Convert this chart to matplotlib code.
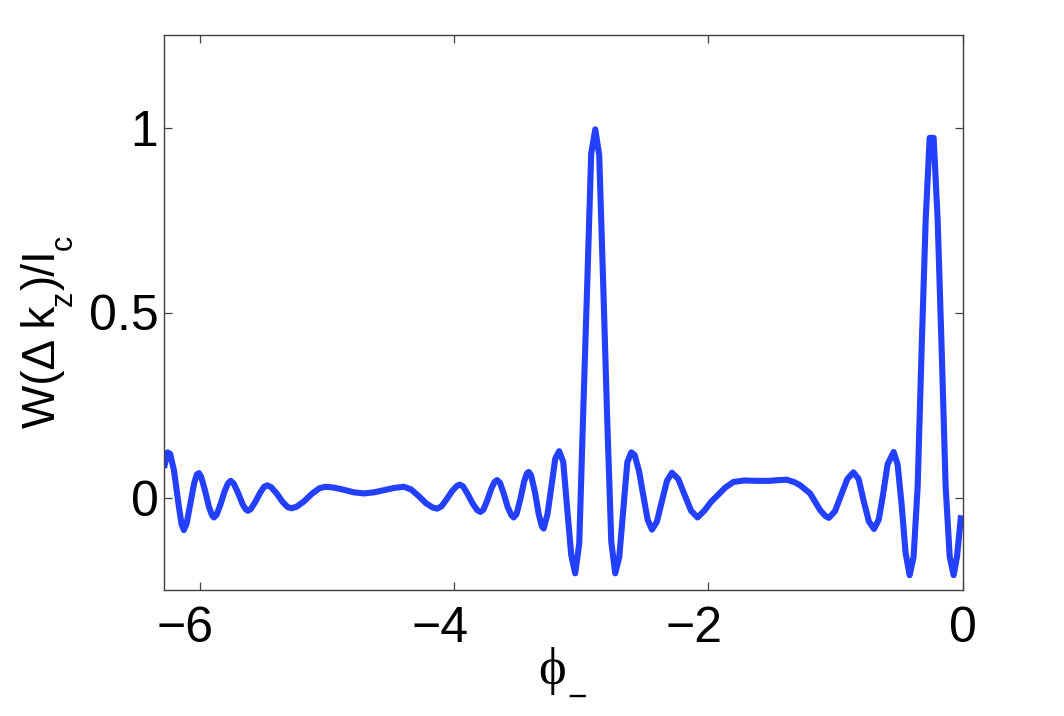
import matplotlib
matplotlib.use("Agg")
import matplotlib.pyplot as plt
from matplotlib import font_manager
from matplotlib.ft2font import FT2Font
import matplotlib.transforms as mtransforms


def has_glyph(family, code):
    try:
        path = font_manager.findfont(font_manager.FontProperties(family=family),
                                     fallback_to_default=False)
        return code in FT2Font(path).get_charmap()
    except Exception:
        return False


phi_font = 'Liberation Serif' if has_glyph('Liberation Serif', 0x3D5) else 'DejaVu Serif'
plt.rcParams['font.family'] = ['Liberation Sans', 'DejaVu Sans']

# phase phi_- and normalized W(dk_z)/I_c
phi = [-6.283, -6.255, -6.235, -6.205, -6.166, -6.145, -6.127, -6.105, -6.075, -6.045,
       -6.025, -6.008, -5.990, -5.960, -5.930, -5.905, -5.891, -5.870, -5.840, -5.805,
       -5.780, -5.759, -5.735, -5.700, -5.665, -5.640, -5.623, -5.600, -5.565, -5.525,
       -5.495, -5.471, -5.440, -5.395, -5.350, -5.310, -5.280, -5.240, -5.180, -5.120,
       -5.060, -5.013, -4.950, -4.870, -4.790, -4.711, -4.630, -4.550, -4.470, -4.397,
       -4.340, -4.280, -4.220, -4.170, -4.134, -4.100, -4.060, -4.015, -3.980, -3.957,
       -3.930, -3.895, -3.855, -3.820, -3.794, -3.770, -3.740, -3.710, -3.683, -3.663,
       -3.640, -3.610, -3.580, -3.550, -3.532, -3.510, -3.480, -3.450, -3.428, -3.414,
       -3.395, -3.365, -3.335, -3.310, -3.296, -3.266, -3.235, -3.205, -3.174, -3.142,
       -3.111, -3.079, -3.048, -3.016, -2.985, -2.953, -2.922, -2.890, -2.859, -2.827,
       -2.796, -2.764, -2.733, -2.701, -2.670, -2.638, -2.607, -2.580, -2.545, -2.512,
       -2.478, -2.444, -2.405, -2.366, -2.326, -2.287, -2.237, -2.186, -2.136, -2.085,
       -2.030, -1.980, -1.933, -1.870, -1.803, -1.720, -1.620, -1.520, -1.450, -1.383,
       -1.320, -1.278, -1.200, -1.121, -1.080, -1.052, -1.004, -0.956, -0.907, -0.859,
       -0.818, -0.778, -0.737, -0.697, -0.660, -0.625, -0.590, -0.5425, -0.5115, -0.4795,
       -0.4485, -0.4165, -0.3855, -0.3535, -0.3225, -0.2905, -0.2593, -0.2277, -0.1962, -0.1647,
       -0.1335, -0.1015, -0.0705, -0.0440, -0.0120]

W = [0.080, 0.122, 0.118, 0.074, -0.025, -0.072, -0.088, -0.070, -0.015, 0.040,
     0.062, 0.066, 0.055, 0.018, -0.025, -0.048, -0.054, -0.047, -0.020, 0.018,
     0.038, 0.045, 0.038, 0.012, -0.018, -0.032, -0.036, -0.031, -0.012, 0.014,
     0.029, 0.033, 0.028, 0.010, -0.012, -0.026, -0.029, -0.025, -0.010, 0.010,
     0.025, 0.029, 0.027, 0.021, 0.014, 0.011, 0.014, 0.020, 0.026, 0.029,
     0.022, 0.004, -0.016, -0.027, -0.030, -0.024, -0.005, 0.018, 0.031, 0.035,
     0.030, 0.010, -0.016, -0.034, -0.039, -0.033, -0.008, 0.022, 0.042, 0.047,
     0.040, 0.010, -0.025, -0.048, -0.054, -0.045, -0.005, 0.043, 0.065, 0.069,
     0.060, 0.015, -0.045, -0.078, -0.084, -0.045, 0.030, 0.105, 0.125, 0.096,
     -0.030, -0.156, -0.205, -0.124, 0.230, 0.580, 0.930, 0.995, 0.925, 0.570,
     0.210, -0.120, -0.205, -0.160, -0.035, 0.095, 0.122, 0.115, 0.070, 0.005,
     -0.060, -0.087, -0.065, -0.010, 0.045, 0.067, 0.050, 0.006, -0.036, -0.054,
     -0.035, -0.012, 0.004, 0.026, 0.042, 0.046, 0.045, 0.045, 0.047, 0.048,
     0.041, 0.033, 0.011, -0.034, -0.050, -0.055, -0.037, 0.006, 0.050, 0.068,
     0.050, -0.010, -0.065, -0.085, -0.060, 0.010, 0.090, 0.123, 0.090, -0.020,
     -0.150, -0.210, -0.160, 0.030, 0.400, 0.750, 0.972, 0.972, 0.750, 0.400,
     0.030, -0.160, -0.210, -0.160, -0.048]

xticks = [-6, -4, -2, 0]
xticklabels = ['\u22126', '\u22124', '\u22122', '0']
yticks = [0, 0.5, 1]
yticklabels = ['0', '0.5', '1']
# y label pieces: (text, is_subscript)
ylabel_parts = [('W(\u0394 k', False), ('z', True), (')/I', False), ('c', True)]

DPI = 100
FW, FH = 1064, 716
fig = plt.figure(figsize=(FW / DPI, FH / DPI), dpi=DPI)
ax = fig.add_axes([164 / FW, 1 - 590 / FH, (962.6 - 164) / FW, (590 - 35) / FH])

ax.plot(phi, W, color='#2440ff', lw=4.4, solid_joinstyle='round', solid_capstyle='butt')

ax.set_xlim(-6.2832, 0)
ax.set_ylim(-0.25, 1.25)
ax.set_xticks(xticks)
ax.set_xticklabels([])
ax.set_yticks(yticks)
ax.set_yticklabels(yticklabels)

for s in ax.spines.values():
    s.set_color('#404040')
    s.set_linewidth(1.0)
ax.tick_params(direction='in', length=6, width=0.9, color='#404040',
               top=True, right=True, labelsize=36)
ax.tick_params(axis='y', pad=4)

# x tick labels: digit centred on the tick, minus sign hanging to the left (as in the reference)
xtrans = mtransforms.blended_transform_factory(ax.transData, ax.transAxes)
for xv, lab in zip(xticks, xticklabels):
    ax.text(xv, 0, lab, fontsize=36, ha='right', va='baseline',
            transform=xtrans + mtransforms.ScaledTranslation(14 / DPI, -52 / DPI, fig.dpi_scale_trans),
            clip_on=False)

# x label: phi with a low subscript minus
ax.set_xlabel('\u03d5', fontsize=38, family=[phi_font, 'DejaVu Serif'])
ax.xaxis.set_label_coords((552 - 164) / (962.6 - 164), -(647 - 590) / (590 - 35))
ax.xaxis.label.set_va('top')
fig.text(577 / FW, 1 - 707 / FH, '\u2212', fontsize=24, ha='center', va='baseline')

# y label built from pieces so that subscripts drop as low as in the reference
fig.canvas.draw()
renderer = fig.canvas.get_renderer()
y_cur = FH - 428  # display pixels from bottom
for txt, sub in ylabel_parts:
    xb = 72 if sub else 55
    size = 22 if sub else 33
    t = fig.text(xb / FW, y_cur / FH, txt, rotation=90, rotation_mode='anchor',
                 ha='left', va='baseline', fontsize=size)
    bb = t.get_window_extent(renderer)
    y_cur += bb.height

fig.savefig('out.png', dpi=DPI)
